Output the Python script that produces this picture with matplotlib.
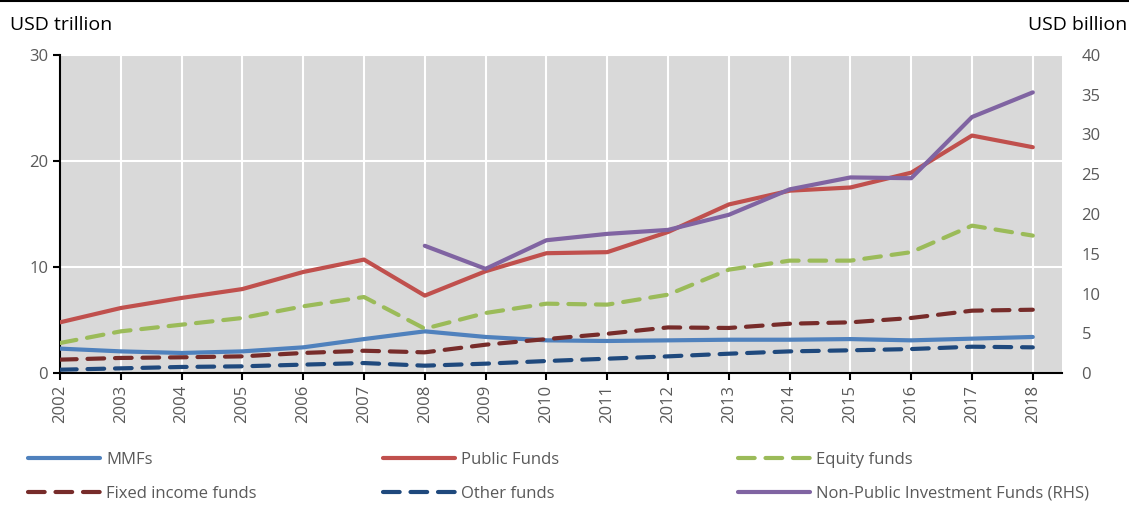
import matplotlib
matplotlib.use("Agg")
import matplotlib.pyplot as plt
from matplotlib.lines import Line2D

# ============ DATA ============
years = list(range(2002, 2019))

mmfs = [2.3, 2.04, 1.89, 2.04, 2.42, 3.2, 3.93, 3.4, 3.08, 3.02, 3.08, 3.14, 3.14, 3.2, 3.08, 3.24, 3.4]
public_funds = [4.78, 6.13, 7.08, 7.92, 9.53, 10.7, 7.3, 9.6, 11.3, 11.4, 13.3, 15.9, 17.2, 17.5, 18.9, 22.4, 21.3]
equity_funds = [2.83, 3.93, 4.56, 5.19, 6.29, 7.17, 4.18, 5.66, 6.54, 6.45, 7.39, 9.75, 10.6, 10.6, 11.4, 13.9, 12.96]
fixed_income = [1.26, 1.42, 1.48, 1.57, 1.89, 2.1, 1.95, 2.67, 3.2, 3.7, 4.3, 4.25, 4.65, 4.78, 5.19, 5.88, 5.97]
other_funds = [0.31, 0.44, 0.57, 0.63, 0.79, 0.94, 0.69, 0.88, 1.13, 1.35, 1.57, 1.82, 2.04, 2.14, 2.26, 2.48, 2.42]

# non-public funds only from 2008, right axis in USD billion
npif_years = list(range(2008, 2019))
npif = [16.0, 13.1, 16.7, 17.5, 18.0, 19.9, 23.1, 24.6, 24.5, 32.2, 35.3]

# ============ STYLE ============
plt.rcParams['font.family'] = ['Open Sans', 'DejaVu Sans']
GREY_TXT = '#595959'
DASH = (0, (4, 2.6))
LW = 3.0

fig = plt.figure(figsize=(11.29, 5.05), dpi=100)
ax = fig.add_axes([60 / 1129, 1 - 373 / 505, (1062 - 60) / 1129, (373 - 55) / 505])
ax.set_facecolor('#D9D9D9')

ax.plot(years, mmfs, color='#4F81BD', lw=LW, solid_capstyle='round', zorder=3)
ax.plot(years, public_funds, color='#C0504D', lw=LW, solid_capstyle='round', zorder=3)
ax.plot(years, equity_funds, color='#9BBB59', lw=LW, ls=DASH, dash_capstyle='round', zorder=3)
ax.plot(years, fixed_income, color='#772C2A', lw=LW, ls=DASH, dash_capstyle='round', zorder=3)
ax.plot(years, other_funds, color='#1F497D', lw=LW, ls=DASH, dash_capstyle='round', zorder=3)

ax.set_xlim(2002, 2018.48)
ax.set_ylim(0, 30)
ax.set_yticks([0, 10, 20, 30])
ax.set_xticks(years)
ax.set_xticklabels([str(y) for y in years], rotation=90)
ax.grid(True, color='white', lw=1.5, zorder=1)
ax.set_axisbelow(True)

for s in ['top', 'right']:
    ax.spines[s].set_visible(False)
ax.spines['left'].set_linewidth(1.5)
ax.spines['bottom'].set_linewidth(1.5)
ax.tick_params(axis='both', colors='black', labelcolor=GREY_TXT, labelsize=12, width=1.5, length=5)

# right axis
ax2 = ax.twinx()
ax2.plot(npif_years, npif, color='#8064A2', lw=LW, solid_capstyle='round', zorder=3)
ax2.set_ylim(0, 40)
ax2.set_yticks(range(0, 41, 5))
for s in ['top', 'right', 'left', 'bottom']:
    ax2.spines[s].set_visible(False)
ax2.tick_params(axis='y', length=0, labelcolor=GREY_TXT, labelsize=12, pad=14)

# axis unit labels
fig.text(10 / 1129, 1 - 25 / 505, 'USD trillion', fontsize=14, va='center', ha='left')
fig.text(1127 / 1129, 1 - 25 / 505, 'USD billion', fontsize=14, va='center', ha='right')

# top border line
fig.add_artist(Line2D([0, 1], [0.998, 0.998], color='black', lw=1.5, transform=fig.transFigure))

# ============ LEGEND ============
def h(color, dashed=False):
    if dashed:
        return Line2D([], [], color=color, lw=LW, ls=DASH, dash_capstyle='round')
    return Line2D([], [], color=color, lw=LW, solid_capstyle='round')

columns = [
    (28, [(h('#4F81BD'), 'MMFs'), (h('#772C2A', True), 'Fixed income funds')]),
    (383, [(h('#C0504D'), 'Public Funds'), (h('#1F497D', True), 'Other funds')]),
    (738, [(h('#9BBB59', True), 'Equity funds'), (h('#8064A2'), 'Non-Public Investment Funds (RHS)')]),
]
for x0, items in columns:
    leg = fig.legend([i[0] for i in items], [i[1] for i in items],
                     loc='upper left', bbox_to_anchor=(x0 / 1129, 1 - 452 / 505),
                     frameon=False, fontsize=12, handlelength=4.3, handletextpad=0.4,
                     labelspacing=1.05, borderaxespad=0, borderpad=0)
    for t in leg.get_texts():
        t.set_color(GREY_TXT)

fig.savefig('out.png', dpi=100)
